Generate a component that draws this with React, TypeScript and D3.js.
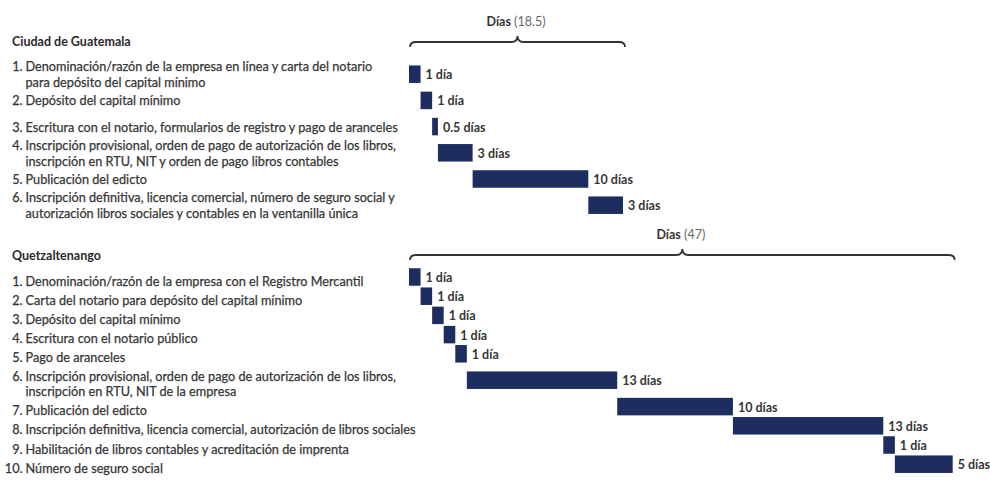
import React from "react";
import * as d3 from "d3";

// ---------- Data ----------
const guatemalaTitle = "Ciudad de Guatemala";
const guatemalaSteps: string[][] = [
  ["Denominación/razón de la empresa en línea y carta del notario", "para depósito del capital mínimo"],
  ["Depósito del capital mínimo"],
  ["Escritura con el notario, formularios de registro y pago de aranceles"],
  ["Inscripción provisional, orden de pago de autorización de los libros,", "inscripción en RTU, NIT y orden de pago libros contables"],
  ["Publicación del edicto"],
  ["Inscripción definitiva, licencia comercial, número de seguro social y", "autorización libros sociales y contables en la ventanilla única"],
];
const guatemalaDays = [1, 1, 0.5, 3, 10, 3];
const guatemalaTotal = "18.5";

const quetzaltenangoTitle = "Quetzaltenango";
const quetzaltenangoSteps: string[][] = [
  ["Denominación/razón de la empresa con el Registro Mercantil"],
  ["Carta del notario para depósito del capital mínimo"],
  ["Depósito del capital mínimo"],
  ["Escritura con el notario público"],
  ["Pago de aranceles"],
  ["Inscripción provisional, orden de pago de autorización de los libros,", "inscripción en RTU, NIT de la empresa"],
  ["Publicación del edicto"],
  ["Inscripción definitiva, licencia comercial, autorización de libros sociales"],
  ["Habilitación de libros contables y acreditación de imprenta"],
  ["Número de seguro social"],
];
const quetzaltenangoDays = [1, 1, 1, 1, 1, 13, 10, 13, 1, 5];
const quetzaltenangoTotal = "47";

const axisLabel = "Días";

// ---------- Styles ----------
const BAR = "#1e2d5f";
const TEXT = "#363636";
const FONT = "Lato, 'Open Sans', sans-serif";

const W = 990;
const H = 494;

// shared day scale (both charts use same px/day)
const x = d3.scaleLinear().domain([0, 47]).range([409, 952.7]);

const dayLabel = (d: number) => (d === 1 ? "1 día" : `${d} días`);

type SectionProps = {
  title: string;
  steps: string[][];
  days: number[];
  total: string;
  titleY: number;
  braceY: number;
  braceLabelY: number;
  rowStart: number;
  singleH: number;
  doubleH: number;
  labelOffset: number;
};

function bracePath(x0: number, x1: number, y: number) {
  const mid = (x0 + x1) / 2;
  const r = 6;
  return [
    `M${x0},${y + 5}`,
    `Q${x0},${y} ${x0 + r},${y}`,
    `L${mid - r},${y}`,
    `Q${mid},${y} ${mid},${y - 6}`,
    `Q${mid},${y} ${mid + r},${y}`,
    `L${x1 - r},${y}`,
    `Q${x1},${y} ${x1},${y + 5}`,
  ].join(" ");
}

function Section(p: SectionProps) {
  const starts = p.days.map((_, i) => d3.sum(p.days.slice(0, i)));
  const totalDays = d3.sum(p.days);
  const heights = p.steps.map((s) => (s.length > 1 ? p.doubleH : p.singleH));
  const centers = heights.map((h, i) => p.rowStart + d3.sum(heights.slice(0, i)) + h / 2);
  const barH = 17.5;
  const lineGap = 15.5;
  const x0 = x(0);
  const x1 = x(totalDays);
  const mid = (x0 + x1) / 2;
  const labelStyle = { stroke: TEXT, strokeWidth: 0.25 } as const;

  return (
    <g>
      <text x={12} y={p.titleY} fontFamily={FONT} fontWeight={700} fontSize={12.5} fill="#2a2a2a">
        {p.title}
      </text>
      <path d={bracePath(x0 + 1, x1 + 2, p.braceY)} fill="none" stroke="#333" strokeWidth={1.8} />
      <text x={mid} y={p.braceLabelY} textAnchor="middle" fontFamily={FONT} fontSize={12.5} fill={TEXT}>
        <tspan fontWeight={700}>{axisLabel}</tspan>
        <tspan fill="#666"> ({p.total})</tspan>
      </text>
      {p.steps.map((lines, i) => {
        const c = centers[i];
        const firstY = c + p.labelOffset - ((lines.length - 1) * lineGap) / 2;
        return (
          <g key={i}>
            <text x={22.5} y={firstY} textAnchor="end" fontFamily={FONT} fontSize={12.7} fill={TEXT} style={labelStyle}>
              {`${i + 1}.`}
            </text>
            {lines.map((ln, j) => (
              <text key={j} x={25.5} y={firstY + j * lineGap} fontFamily={FONT} fontSize={12.7} fill={TEXT} style={labelStyle}>
                {ln}
              </text>
            ))}
            <rect
              x={x(starts[i])}
              y={c - barH / 2}
              width={x(starts[i] + p.days[i]) - x(starts[i])}
              height={barH}
              fill={BAR}
            />
            <text
              x={x(starts[i] + p.days[i]) + 5}
              y={c + 5}
              fontFamily={FONT}
              fontWeight={700}
              fontSize={12.5}
              fill={TEXT}
            >
              {dayLabel(p.days[i])}
            </text>
          </g>
        );
      })}
    </g>
  );
}

export default function App() {
  return (
    <svg
      width={W}
      height={H}
      viewBox={`0 0 ${W} ${H}`}
      style={{ position: "absolute", left: 0, top: 0, background: "#fff" }}
    >
      <rect width={W} height={H} fill="#fff" />
      <Section
        title={guatemalaTitle}
        steps={guatemalaSteps}
        days={guatemalaDays}
        total={guatemalaTotal}
        titleY={46}
        braceY={42}
        braceLabelY={26}
        rowStart={61.1}
        singleH={26.2}
        doubleH={26.2}
        labelOffset={5}
      />
      <Section
        title={quetzaltenangoTitle}
        steps={quetzaltenangoSteps}
        days={quetzaltenangoDays}
        total={quetzaltenangoTotal}
        titleY={260}
        braceY={255}
        braceLabelY={239}
        rowStart={267.4}
        singleH={19.2}
        doubleH={33.6}
        labelOffset={8.5}
      />
    </svg>
  );
}
